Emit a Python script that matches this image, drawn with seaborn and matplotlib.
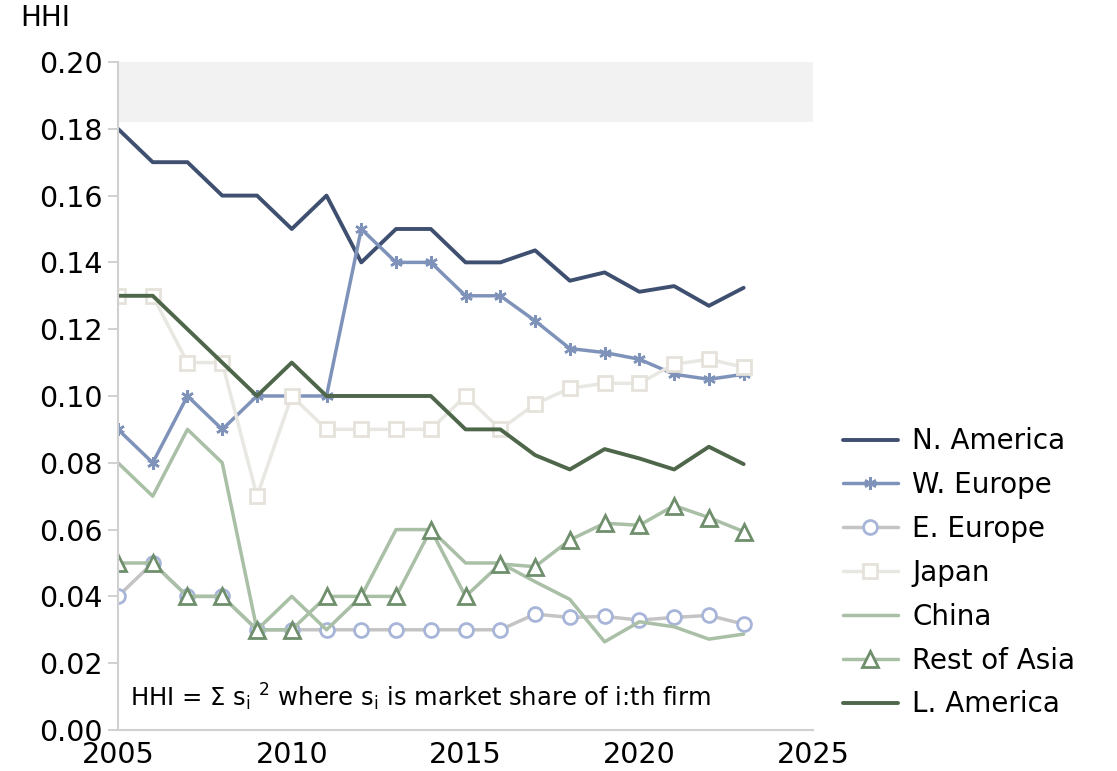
import numpy as np
import pandas as pd
import seaborn as sns
from matplotlib import pyplot as plt

sns.set_style("white")
plt.rcParams["font.family"] = ["DejaVu Sans"]
plt.rcParams["text.color"] = "black"
plt.rcParams["xtick.color"] = "black"
plt.rcParams["ytick.color"] = "black"

years = list(range(2005, 2024))

n_america = [0.18, 0.17, 0.17, 0.16, 0.16, 0.15, 0.16, 0.14, 0.15, 0.15,
             0.14, 0.14, 0.1436, 0.1345, 0.137, 0.1312, 0.1329, 0.127, 0.1324]
w_europe = [0.09, 0.08, 0.10, 0.09, 0.10, 0.10, 0.10, 0.15, 0.14, 0.14,
            0.13, 0.13, 0.1225, 0.1142, 0.113, 0.111, 0.1065, 0.105, 0.1065]
e_europe = [0.04, 0.05, 0.04, 0.04, 0.03, 0.03, 0.03, 0.03, 0.03, 0.03,
            0.03, 0.03, 0.0347, 0.0337, 0.034, 0.0329, 0.0337, 0.0343, 0.0317]
japan = [0.13, 0.13, 0.11, 0.11, 0.07, 0.10, 0.09, 0.09, 0.09, 0.09,
         0.10, 0.09, 0.0976, 0.1023, 0.1038, 0.1038, 0.1095, 0.111, 0.1086]
china = [0.08, 0.07, 0.09, 0.08, 0.03, 0.04, 0.03, 0.04, 0.06, 0.06,
         0.05, 0.05, 0.0444, 0.0391, 0.0264, 0.0324, 0.0309, 0.0272, 0.0287]
rest_asia = [0.05, 0.05, 0.04, 0.04, 0.03, 0.03, 0.04, 0.04, 0.04, 0.06,
             0.04, 0.0497, 0.0489, 0.0569, 0.0619, 0.0613, 0.0672, 0.0636, 0.0594]
l_america = [0.13, 0.13, 0.12, 0.11, 0.10, 0.11, 0.10, 0.10, 0.10, 0.10,
             0.09, 0.09, 0.0823, 0.078, 0.0841, 0.0813, 0.078, 0.0848, 0.0796]

regions = ["N. America", "W. Europe", "E. Europe", "Japan", "China", "Rest of Asia", "L. America"]
values = [n_america, w_europe, e_europe, japan, china, rest_asia, l_america]

# line colour, marker, marker edge colour, line width, marker size
styles = {
    "N. America":   ("#3F4F70", None, None, 2.8, 0),
    "W. Europe":    ("#7F93BA", (6, 2, 0), "#7F93BA", 2.5, 9),
    "E. Europe":    ("#C4C4C4", "o", "#A7B5D8", 2.5, 10),
    "Japan":        ("#E9E7E1", "s", "#E5E2DB", 2.5, 10.5),
    "China":        ("#A9BFA6", None, None, 2.5, 0),
    "Rest of Asia": ("#A9BFA6", "^", "#6F8F6C", 2.5, 11),
    "L. America":   ("#4E6649", None, None, 2.8, 0),
}

d = pd.DataFrame({"year": years})
for r, v in zip(regions, values):
    d[r] = v

fig = plt.figure(figsize=(11.17, 7.71), dpi=100)
ax = fig.add_axes([0.1056, 0.0532, 0.6224, 0.8664])

ax.axhspan(0.182, 0.20, color="#F2F2F2", zorder=0, lw=0)

for r in regions:
    c, m, mec, lw, ms = styles[r]
    kw = dict(color=c, lw=lw, label=r, ax=ax)
    if m is not None:
        kw.update(marker=m, markersize=ms, markeredgecolor=mec,
                  markerfacecolor="white" if m != (6, 2, 0) else mec,
                  markeredgewidth=2 if m != (6, 2, 0) else 1.8)
    sns.lineplot(data=d, x="year", y=r, **kw)

ax.set_xlim(2005, 2025)
ax.set_ylim(0, 0.20)
ax.set_xticks([2005, 2010, 2015, 2020, 2025])
ax.set_yticks(np.arange(0, 0.201, 0.02))
ax.set_yticklabels([f"{t:.2f}" for t in np.arange(0, 0.201, 0.02)])
ax.set_xlabel("")
ax.set_ylabel("")
ax.tick_params(axis="y", labelsize=20.5, length=7, color="#C8C8C8", width=1.2, left=True, pad=4)
ax.tick_params(axis="x", labelsize=20.5, length=0, pad=8)
for s in ["top", "right"]:
    ax.spines[s].set_visible(False)
for s in ["left", "bottom"]:
    ax.spines[s].set_color("#D0D0D0")
    ax.spines[s].set_linewidth(1.5)

fig.text(0.018, 0.977, "HHI", fontsize=20, va="center", ha="left")

ax.text(2005.35, 0.0097, r"HHI = Σ s$_\mathregular{i}$ $^\mathregular{2}$ where s$_\mathregular{i}$ is market share of i:th firm",
        fontsize=17.5, va="center", ha="left")

leg = ax.legend(loc="center left", bbox_to_anchor=(0.732, 0.257), bbox_transform=fig.transFigure,
                frameon=False, fontsize=20, handlelength=2.0, labelspacing=0.57, handletextpad=0.5)

plt.savefig("out.png", dpi=100)
